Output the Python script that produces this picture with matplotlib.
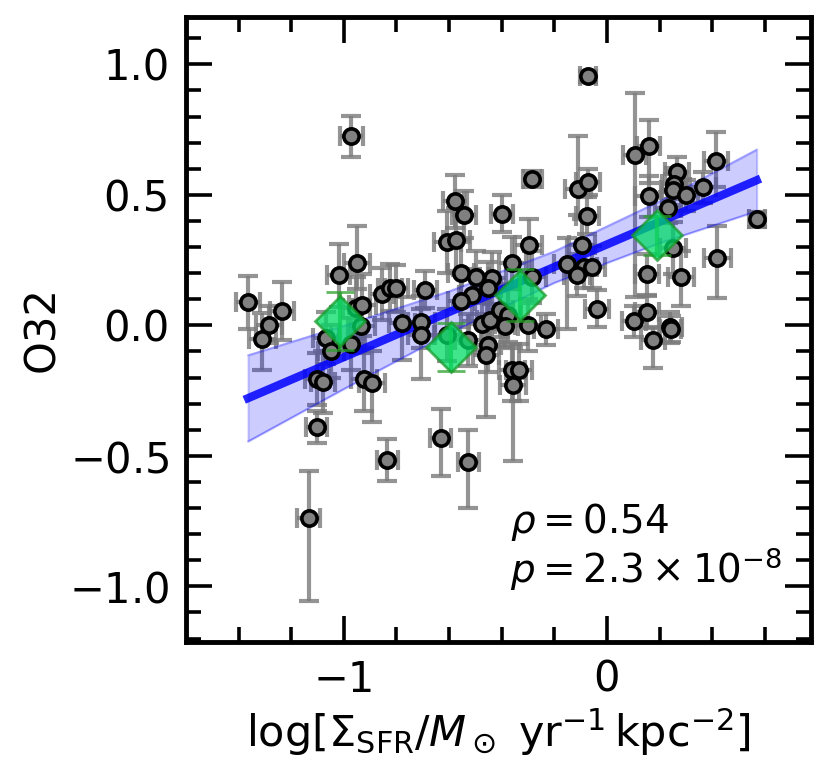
import matplotlib
matplotlib.use("Agg")
import matplotlib.pyplot as plt
import numpy as np

# individual regions: log Sigma_SFR vs O32
sfr = [-0.971, -0.578, -0.543, -0.400, -0.606, -0.572, -0.951, -1.020, -1.364, -1.235,
       -1.285, -1.309, -0.854, -0.825, -0.800, -0.690, -0.555, -0.499, -0.435, -0.451,
       -0.512, -0.553, -0.952, -0.929, -0.778, -0.705, -0.705, -0.476, -0.445, -0.407,
       -0.375, -0.388, -0.933, -1.068, -1.048, -0.971, -1.103, -1.080, -0.923, -0.892,
       -1.102, -0.835, -1.134, -0.632, -0.527, -0.452, -0.460, -0.361, -0.333, -0.356,
       -0.609, -0.529, -0.299, -0.232, -0.283, -0.298, -0.359, -0.283, 0.105, 0.158,
       0.265, 0.255, 0.252, 0.300, 0.365, 0.415, 0.158, 0.232, 0.252, 0.153,
       0.281, 0.153, 0.103, 0.241, 0.420, -0.111, -0.071, -0.074, -0.095, -0.150,
       -0.086, -0.056, -0.113, -0.039, -0.073, 0.569, 0.176, 0.242]
o32 = [0.724, 0.475, 0.423, 0.428, 0.319, 0.328, 0.239, 0.192, 0.088, 0.055,
       0.003, -0.052, 0.120, 0.144, 0.143, 0.137, 0.200, 0.185, 0.181, 0.143,
       0.115, 0.092, 0.066, 0.078, 0.009, 0.013, -0.036, 0.006, 0.022, 0.057,
       0.038, -0.003, -0.004, -0.049, -0.100, -0.070, -0.207, -0.217, -0.207, -0.220,
       -0.390, -0.517, -0.737, -0.432, -0.525, -0.077, -0.115, -0.170, -0.170, -0.227,
       -0.036, -0.055, 0.000, -0.015, 0.562, 0.307, 0.239, 0.186, 0.651, 0.686,
       0.587, 0.543, 0.520, 0.498, 0.529, 0.631, 0.494, 0.451, 0.296, 0.195,
       0.185, 0.051, 0.015, -0.008, 0.260, 0.524, 0.549, 0.421, 0.309, 0.236,
       0.223, 0.223, 0.192, 0.064, 0.954, 0.406, -0.055, -0.015]
o32_lo = [0.08, 0.10, 0.09, 0.07, 0.12, 0.12, 0.10, 0.12, 0.10, 0.11,
          0.07, 0.12, 0.10, 0.09, 0.09, 0.07, 0.12, 0.10, 0.10, 0.10,
          0.10, 0.10, 0.12, 0.12, 0.14, 0.10, 0.17, 0.10, 0.10, 0.10,
          0.10, 0.08, 0.10, 0.10, 0.10, 0.10, 0.10, 0.12, 0.12, 0.15,
          0.06, 0.08, 0.32, 0.145, 0.174, 0.10, 0.237, 0.12, 0.12, 0.293,
          0.10, 0.10, 0.10, 0.06, 0.03, 0.10, 0.10, 0.10, 0.544, 0.14,
          0.06, 0.06, 0.06, 0.06, 0.06, 0.10, 0.08, 0.06, 0.10, 0.08,
          0.11, 0.06, 0.06, 0.06, 0.157, 0.10, 0.05, 0.07, 0.10, 0.25,
          0.08, 0.08, 0.08, 0.07, 0.02, 0.03, 0.11, 0.05]
o32_hi = [0.08, 0.10, 0.09, 0.07, 0.12, 0.12, 0.14, 0.12, 0.10, 0.11,
          0.07, 0.10, 0.10, 0.09, 0.09, 0.07, 0.12, 0.10, 0.10, 0.10,
          0.10, 0.10, 0.12, 0.12, 0.10, 0.10, 0.10, 0.10, 0.10, 0.10,
          0.10, 0.08, 0.10, 0.10, 0.10, 0.10, 0.10, 0.12, 0.12, 0.12,
          0.06, 0.08, 0.18, 0.11, 0.126, 0.10, 0.10, 0.10, 0.10, 0.14,
          0.10, 0.10, 0.10, 0.06, 0.03, 0.10, 0.10, 0.10, 0.238, 0.10,
          0.06, 0.06, 0.06, 0.06, 0.06, 0.11, 0.08, 0.06, 0.10, 0.08,
          0.10, 0.06, 0.06, 0.06, 0.12, 0.20, 0.05, 0.07, 0.10, 0.10,
          0.08, 0.08, 0.08, 0.07, 0.02, 0.03, 0.05, 0.05]
sfr_err = [0.045, 0.045, 0.045, 0.042, 0.05, 0.05, 0.05, 0.045, 0.045, 0.045,
           0.05, 0.05, 0.045, 0.045, 0.045, 0.045, 0.05, 0.05, 0.05, 0.05,
           0.05, 0.05, 0.05, 0.05, 0.05, 0.05, 0.05, 0.05, 0.05, 0.05,
           0.05, 0.05, 0.05, 0.05, 0.05, 0.05, 0.045, 0.045, 0.05, 0.05,
           0.04, 0.04, 0.045, 0.04, 0.04, 0.05, 0.05, 0.05, 0.05, 0.05,
           0.05, 0.05, 0.05, 0.045, 0.035, 0.05, 0.05, 0.05, 0.045, 0.045,
           0.045, 0.045, 0.045, 0.045, 0.05, 0.045, 0.05, 0.05, 0.05, 0.045,
           0.05, 0.045, 0.045, 0.045, 0.05, 0.05, 0.045, 0.045, 0.05, 0.05,
           0.05, 0.05, 0.05, 0.045, 0.03, 0.03, 0.045, 0.04]

# binned medians
bin_x = [-1.015, -0.593, -0.331, 0.189]
bin_y = [0.017, -0.083, 0.115, 0.345]
bin_err = [0.11, 0.093, 0.10, 0.075]

# linear fit and its confidence band
fit_x = [-1.364, 0.569]
fit_y = [-0.279, 0.556]
band_x = [-1.364, -1.0, -0.6, -0.2, 0.2, 0.569]
band_lo = [-0.444, -0.243, -0.029, 0.164, 0.316, 0.438]
band_hi = [-0.114, -0.001, 0.131, 0.284, 0.476, 0.674]

rho_txt = r'$\rho = 0.54$'
p_txt = r'$p = 2.3 \times 10^{-8}$'

fig = plt.figure(figsize=(8.3, 7.8), dpi=100)
ax = fig.add_axes([0.224, 0.177, 0.753, 0.801])

ax.errorbar(sfr, o32, yerr=[o32_lo, o32_hi], xerr=sfr_err, fmt='none',
            ecolor='#7a7a7a', elinewidth=3, capsize=7.5, capthick=3, alpha=0.8, zorder=1)
ax.fill_between(band_x, band_lo, band_hi, color='blue', alpha=0.2, lw=1.5, zorder=2)
ax.plot(band_x, band_lo, color='blue', alpha=0.25, lw=1.2, zorder=2)
ax.plot(band_x, band_hi, color='blue', alpha=0.25, lw=1.2, zorder=2)
ax.plot(fit_x, fit_y, color='blue', lw=6, alpha=0.85, zorder=3)
ax.plot(sfr, o32, 'o', ms=11, mfc='gray', mec='black', mew=2.6, ls='none', zorder=4)
ax.errorbar(bin_x, bin_y, yerr=bin_err, fmt='D', ms=25, mfc='#00dd66', mec='#1a9a2a',
            mew=2, ecolor='#2ca02c', elinewidth=3, capsize=10, capthick=3.5,
            alpha=0.75, zorder=5)

ax.text(0.518, 0.174, rho_txt, transform=ax.transAxes, fontsize=28, va='baseline')
ax.text(0.518, 0.094, p_txt, transform=ax.transAxes, fontsize=28, va='baseline')

ax.set_xlim(-1.6, 0.775)
ax.set_ylim(-1.213, 1.181)
ax.set_xticks([-1, 0])
ax.set_yticks([-1.0, -0.5, 0.0, 0.5, 1.0])
ax.set_yticklabels(['$-1.0$', '$-0.5$', '0.0', '0.5', '1.0'])
ax.set_xticks(np.arange(-1.4, 0.7, 0.2), minor=True)
ax.set_yticks(np.arange(-1.2, 1.15, 0.1), minor=True)
ax.tick_params(which='both', direction='in', top=True, right=True, labelsize=30, pad=12)
ax.tick_params(which='major', length=19, width=2.6)
ax.tick_params(which='minor', length=11, width=2.6)
for s in ax.spines.values():
    s.set_linewidth(3.5)

ax.set_xlabel(r'$\log[\Sigma_{\rm SFR}/M_\odot\ {\rm yr^{-1}\,kpc^{-2}}]$', fontsize=31)
ax.set_ylabel('O32', fontsize=30)

fig.savefig('out.png', dpi=100)
